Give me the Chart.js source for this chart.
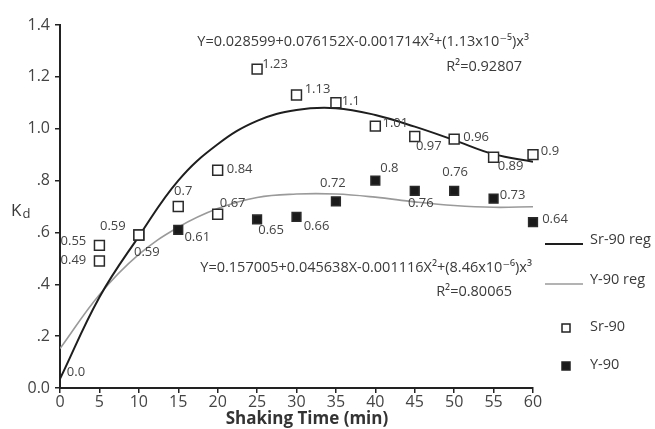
<!DOCTYPE html>
<html>
<head>
<meta charset="utf-8">
<title>Kd vs shaking time</title>
<script src="https://cdn.jsdelivr.net/npm/chart.js@4.4.1/dist/chart.umd.min.js"></script>
<style>
  html, body { margin: 0; padding: 0; background: #fff; }
  canvas { display: block; }
</style>
</head>
<body>
<canvas id="kdChart" width="655" height="429"></canvas>
<script>
// Shaking time (min)
const times = [0, 5, 10, 15, 20, 25, 30, 35, 40, 45, 50, 55, 60];

// Measured Kd, Sr-90 (includes the 0 min start point)
const srTimes = [0, 5, 10, 15, 20, 25, 30, 35, 40, 45, 50, 55, 60];
const srKd = [0.0, 0.55, 0.59, 0.7, 0.84, 1.23, 1.13, 1.1, 1.01, 0.97, 0.96, 0.89, 0.9];

// Measured Kd, Y-90
const yTimes = [5, 10, 15, 20, 25, 30, 35, 40, 45, 50, 55, 60];
const yKd = [0.49, 0.59, 0.61, 0.67, 0.65, 0.66, 0.72, 0.8, 0.76, 0.76, 0.73, 0.64];

// Cubic regression curves, sampled every 5 min
const srRegKd = [0.035, 0.35, 0.585, 0.80, 0.94, 1.03, 1.072, 1.079, 1.053, 1.008, 0.956, 0.902, 0.873];
const yRegKd = [0.152, 0.36, 0.515, 0.62, 0.692, 0.735, 0.748, 0.748, 0.736, 0.718, 0.704, 0.697, 0.699];

// Axis ticks
const xTicks = [0, 5, 10, 15, 20, 25, 30, 35, 40, 45, 50, 55, 60];
const yTicks = [0, 0.2, 0.4, 0.6, 0.8, 1.0, 1.2, 1.4];
const yTickLabels = ["0.0", ".2", ".4", ".6", ".8", "1.0", "1.2", "1.4"];

// Regression equations
const srEquation = "Y=0.028599+0.076152X-0.001714X\u00B2+(1.13x10\u207B\u2075)x\u00B3";
const srR2 = "R\u00B2=0.92807";
const yEquation = "Y=0.157005+0.045638X-0.001116X\u00B2+(8.46x10\u207B\u2076)x\u00B3";
const yR2 = "R\u00B2=0.80065";

// Y-90 points plotted as open squares
const yHollowTimes = [5, 10, 20];

// label placement (dx, dy from the marker)
const srLabelOffsets = [[16, -16], [-26, -4], [-26, -9], [5, -15], [22, -1], [18, -5], [21, -6],
  [15, -1], [20, -3], [14, 10], [22, -2], [17, 9], [17, -3]];
const yLabelOffsets = [[-26, -1], [8, 17], [19, 7], [15, -11], [14, 11], [20, 9], [-3, -18],
  [14, -12], [6, 12], [1, -19], [19, -3], [22, -3]];

const FONT = "'Open Sans', 'DejaVu Sans', sans-serif";
const TEXT = "#3a3a3a";

const toPoints = (xs, ys) => xs.map((x, i) => ({ x: x, y: ys[i] }));
const fmt = (v) => (v === 0 ? "0.0" : String(v));

// value labels next to each marker
const pointLabels = {
  id: "pointLabels",
  afterDatasetsDraw(chart) {
    const ctx = chart.ctx;
    ctx.save();
    ctx.font = "13px " + FONT;
    ctx.fillStyle = "#444";
    ctx.textAlign = "center";
    ctx.textBaseline = "middle";
    chart.data.datasets.forEach((ds, i) => {
      if (!ds.labelOffsets) return;
      chart.getDatasetMeta(i).data.forEach((el, j) => {
        const off = ds.labelOffsets[j];
        ctx.fillText(fmt(ds.data[j].y), el.x + off[0], el.y + off[1]);
      });
    });
    ctx.restore();
  }
};

// equations, axis titles and the side legend
const extras = {
  id: "extras",
  afterDraw(chart) {
    const ctx = chart.ctx;
    ctx.save();
    ctx.fillStyle = TEXT;
    ctx.textBaseline = "middle";

    ctx.font = "14.5px " + FONT;
    ctx.textAlign = "right";
    ctx.fillText(srEquation, 529, 42);
    ctx.fillText(srR2, 522, 67);
    ctx.fillText(yEquation, 532, 268);
    ctx.fillText(yR2, 512, 292);

    // x axis title
    ctx.textAlign = "center";
    ctx.font = "bold 17px " + FONT;
    ctx.fillStyle = "#333";
    ctx.fillText("Shaking Time (min)", 307, 419);

    // K with subscript d
    ctx.fillStyle = TEXT;
    ctx.textAlign = "left";
    ctx.textBaseline = "alphabetic";
    ctx.font = "17px " + FONT;
    ctx.fillText("K", 11, 216);
    const kw = ctx.measureText("K").width;
    ctx.font = "13px " + FONT;
    ctx.fillText("d", 11 + kw + 1, 218);

    // legend
    const ds = chart.data.datasets;
    const rows = [244, 284, 328, 366];
    ctx.font = "14.5px " + FONT;
    ctx.textBaseline = "middle";
    ds.forEach((d, i) => {
      const y = rows[i];
      if (d.showLine) {
        ctx.strokeStyle = d.borderColor;
        ctx.lineWidth = d.borderWidth;
        ctx.beginPath();
        ctx.moveTo(545, y);
        ctx.lineTo(583, y);
        ctx.stroke();
        ctx.fillStyle = TEXT;
        ctx.fillText(d.label, 590, y - 4);
      } else {
        ctx.fillStyle = d.legendFill;
        ctx.strokeStyle = "#222";
        ctx.lineWidth = 1.5;
        ctx.fillRect(562, y - 4, 8, 8);
        ctx.strokeRect(562, y - 4, 8, 8);
        ctx.fillStyle = TEXT;
        ctx.fillText(d.label, 590, y - 1);
      }
    });
    ctx.restore();
  }
};

new Chart(document.getElementById("kdChart"), {
  type: "scatter",
  data: {
    datasets: [
      {
        label: "Sr-90 reg",
        data: toPoints(times, srRegKd),
        showLine: true,
        borderColor: "#1e1e1e",
        borderWidth: 2,
        pointRadius: 0,
        tension: 0.4,
        order: 3
      },
      {
        label: "Y-90 reg",
        data: toPoints(times, yRegKd),
        showLine: true,
        borderColor: "#9a9a9a",
        borderWidth: 1.6,
        pointRadius: 0,
        tension: 0.4,
        order: 4
      },
      {
        label: "Sr-90",
        data: toPoints(srTimes, srKd),
        pointStyle: "rect",
        pointRadius: (c) => (c.raw && c.raw.y === 0 ? 0 : 7),
        pointBackgroundColor: "#fff",
        pointBorderColor: "#2a2a2a",
        pointBorderWidth: 1.5,
        legendFill: "#fff",
        labelOffsets: srLabelOffsets,
        clip: false,
        order: 1
      },
      {
        label: "Y-90",
        data: toPoints(yTimes, yKd),
        pointStyle: "rect",
        pointRadius: (c) => (c.raw && yHollowTimes.includes(c.raw.x) ? 7 : 6.2),
        pointBackgroundColor: (c) => (c.raw && yHollowTimes.includes(c.raw.x) ? "#fff" : "#1a1a1a"),
        pointBorderColor: "#2a2a2a",
        pointBorderWidth: 1.5,
        legendFill: "#1a1a1a",
        labelOffsets: yLabelOffsets,
        clip: false,
        order: 2
      }
    ]
  },
  options: {
    responsive: false,
    animation: false,
    devicePixelRatio: 1,
    layout: { padding: { left: 0, top: 25, right: 122, bottom: 0 } },
    plugins: {
      legend: { display: false },
      tooltip: { enabled: false }
    },
    scales: {
      x: {
        type: "linear",
        min: 0,
        max: 60,
        afterBuildTicks: (scale) => { scale.ticks = xTicks.map((v) => ({ value: v })); },
        afterFit: (scale) => { scale.height = 41; },
        ticks: {
          font: { family: FONT, size: 16 },
          color: "#444",
          padding: 0,
          maxRotation: 0
        },
        grid: { drawOnChartArea: false, drawTicks: true, tickLength: 5, color: "#222", lineWidth: 1.5 },
        border: { display: true, color: "#222", width: 2 }
      },
      y: {
        min: 0,
        max: 1.4,
        afterBuildTicks: (scale) => { scale.ticks = yTicks.map((v) => ({ value: v })); },
        afterFit: (scale) => { scale.width = 60; },
        ticks: {
          font: { family: FONT, size: 16 },
          color: "#444",
          padding: 5,
          callback: (v) => {
            const i = yTicks.findIndex((t) => Math.abs(t - v) < 1e-6);
            return i >= 0 ? yTickLabels[i] : "";
          }
        },
        grid: { drawOnChartArea: false, drawTicks: true, tickLength: 5, color: "#222", lineWidth: 1.5 },
        border: { display: true, color: "#222", width: 2 }
      }
    }
  },
  plugins: [pointLabels, extras]
});
</script>
</body>
</html>
